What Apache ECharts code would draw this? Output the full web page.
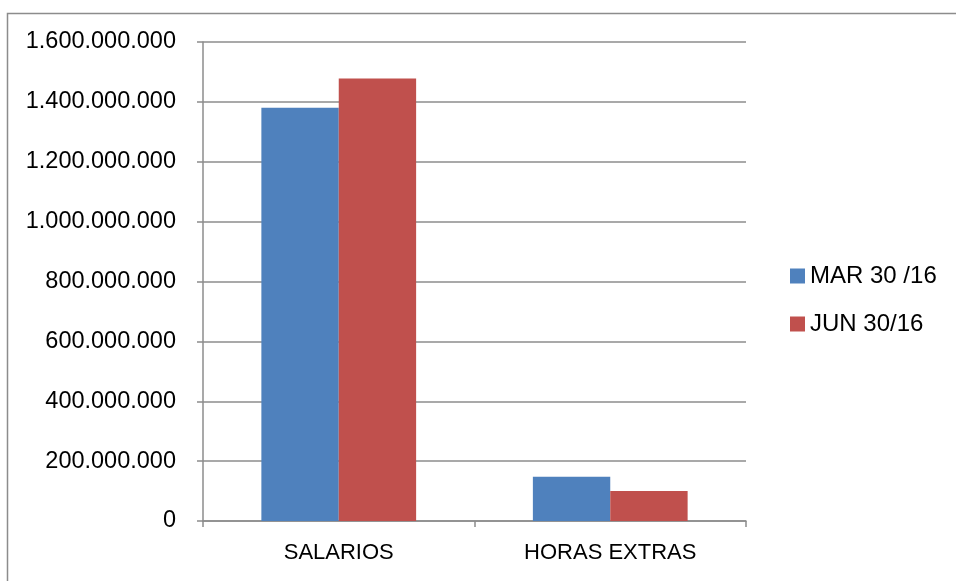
<!DOCTYPE html>
<html>
<head>
<meta charset="utf-8">
<script src="https://cdn.jsdelivr.net/npm/echarts@6/dist/echarts.min.js"></script>
<style>
  html, body { margin: 0; padding: 0; background: #fff; }
  #echart { width: 956px; height: 581px; }
</style>
</head>
<body>
<div id="echart"></div>
<script>
var categories = ['SALARIOS', 'HORAS EXTRAS'];
var seriesNames = ['MAR 30 /16', 'JUN 30/16'];
var marValues = [1380000000, 148000000];
var junValues = [1478000000, 100000000];

var myChart = echarts.init(document.getElementById('echart'));
var font = 'Liberation Sans, Arial, sans-serif';

// formato con puntos de miles
function fmt(v) {
    return String(v).replace(/\B(?=(\d{3})+(?!\d))/g, '.');
}

var option = {
    animation: false,
    textStyle: { fontFamily: font },
    graphic: [{
        type: 'rect',
        shape: { x: 7.5, y: 13.5, width: 960, height: 600 },
        style: { fill: 'none', stroke: '#8c8c8c', lineWidth: 1.5 }
    }],
    grid: { left: 203, right: 210, top: 42, bottom: 60 },
    legend: {
        data: seriesNames,
        orient: 'vertical',
        left: 790,
        top: 264,
        padding: 0,
        itemWidth: 15,
        itemHeight: 15,
        itemGap: 24,
        icon: 'rect',
        textStyle: { fontSize: 24, color: '#000', fontFamily: font }
    },
    xAxis: {
        type: 'category',
        data: categories,
        axisLine: { lineStyle: { color: '#8c8c8c', width: 1.5 } },
        axisTick: { show: true, length: 6, lineStyle: { color: '#8c8c8c', width: 1.5 } },
        axisLabel: { fontSize: 22, color: '#000', margin: 21 }
    },
    yAxis: {
        type: 'value',
        min: 0,
        max: 1600000000,
        interval: 200000000,
        axisLine: { show: true, lineStyle: { color: '#8c8c8c', width: 1.5 } },
        axisTick: { show: true, length: 6, lineStyle: { color: '#8c8c8c', width: 1.5 } },
        splitLine: { lineStyle: { color: '#8c8c8c', width: 1.5 } },
        axisLabel: { fontSize: 23.5, color: '#000', margin: 27, formatter: fmt }
    },
    series: [{
        name: seriesNames[0],
        type: 'bar',
        data: marValues,
        barGap: '0%',
        barCategoryGap: '43%',
        itemStyle: { color: '#4f81bd' }
    }, {
        name: seriesNames[1],
        type: 'bar',
        data: junValues,
        itemStyle: { color: '#c0504d' }
    }]
};

myChart.setOption(option);
</script>
</body>
</html>
